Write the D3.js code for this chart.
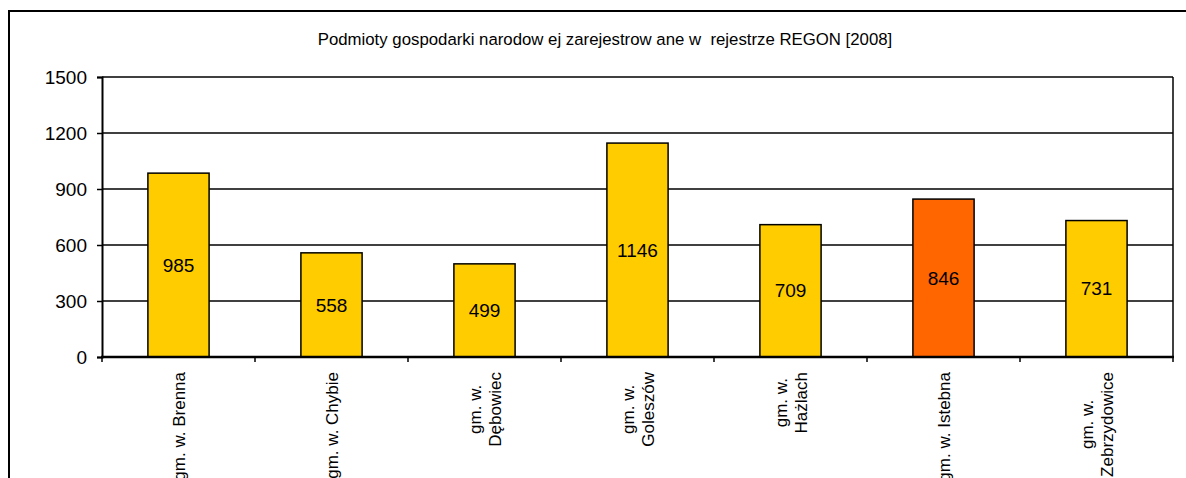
<!DOCTYPE html>
<html lang="pl">
  <head>
    <meta charset="UTF-8" />
    <script src="https://d3js.org/d3.v7.min.js"></script>
    <title>REGON 2008</title>
    <style>
      body { margin: 0; background: #fff; }
      text { font-family: "Liberation Sans", Arial, sans-serif; fill: #000; }
    </style>
  </head>
  <body>
    <svg id="chart" width="1186" height="478"></svg>
  </body>
  <script>
    // data
    var gminy = [
      ["gm. w. Brenna"],
      ["gm. w. Chybie"],
      ["gm. w.", "Dębowiec"],
      ["gm. w.", "Goleszów"],
      ["gm. w.", "Hażlach"],
      ["gm. w. Istebna"],
      ["gm. w.", "Zebrzydowice"]
    ];
    var podmioty = [985, 558, 499, 1146, 709, 846, 731];
    var wyroznione = ["gm. w. Istebna"];
    var yTicks = [0, 300, 600, 900, 1200, 1500];
    var tytul = "Podmioty gospodarki narodow ej zarejestrow ane w  rejestrze REGON [2008]";

    var svg = d3.select("#chart");
    var margin = { left: 102, right: 1173, top: 77, bottom: 357 };

    // outer frame (cut by the picture edge)
    svg.append("rect")
      .attr("x", 9).attr("y", 11)
      .attr("width", 1200).attr("height", 500)
      .attr("fill", "none").attr("stroke", "#000").attr("stroke-width", 2);

    svg.append("text")
      .attr("x", 605).attr("y", 45)
      .attr("text-anchor", "middle")
      .style("font-size", "16.8px")
      .style("white-space", "pre")
      .text(tytul);

    var x = d3.scaleBand()
      .domain(gminy.map(d => d.join(" ")))
      .range([margin.left, margin.right])
      .padding(0);

    var y = d3.scaleLinear().domain([0, 1500]).range([margin.bottom, margin.top]);

    // gridlines
    svg.append("g")
      .selectAll("line")
      .data(yTicks.filter(d => d > 0))
      .join("line")
      .attr("x1", margin.left).attr("x2", margin.right)
      .attr("y1", d => y(d)).attr("y2", d => y(d))
      .attr("stroke", "#000").attr("stroke-width", 1.5);

    // right border of plot
    svg.append("line")
      .attr("x1", margin.right).attr("x2", margin.right)
      .attr("y1", margin.top).attr("y2", margin.bottom)
      .attr("stroke", "#000").attr("stroke-width", 1.5);

    // bars
    var bw = x.bandwidth() * 0.4;
    svg.append("g")
      .selectAll("rect")
      .data(gminy)
      .join("rect")
      .attr("x", d => x(d.join(" ")) + (x.bandwidth() - bw) / 2)
      .attr("y", (d, i) => y(podmioty[i]))
      .attr("width", bw)
      .attr("height", (d, i) => y(0) - y(podmioty[i]))
      .attr("fill", d => wyroznione.includes(d.join(" ")) ? "#FF6600" : "#FFCC00")
      .attr("stroke", "#000").attr("stroke-width", 1.5);

    // value labels
    svg.append("g")
      .selectAll("text")
      .data(gminy)
      .join("text")
      .attr("x", d => x(d.join(" ")) + x.bandwidth() / 2)
      .attr("y", (d, i) => (y(podmioty[i]) + y(0)) / 2)
      .attr("dy", "0.35em")
      .attr("text-anchor", "middle")
      .style("font-size", "19px")
      .text((d, i) => podmioty[i]);

    // y axis
    var yAxis = svg.append("g")
      .attr("transform", "translate(" + margin.left + ",0)")
      .call(d3.axisLeft(y).tickValues(yTicks).tickFormat(d3.format("d")).tickSize(5).tickPadding(10));
    yAxis.select(".domain").attr("stroke-width", 2);
    yAxis.selectAll(".tick line").attr("stroke-width", 1.5);
    yAxis.selectAll("text").style("font-size", "19px").style("font-family", null);

    // x axis with ticks at category boundaries
    var bounds = gminy.map(d => x(d.join(" "))).concat([margin.right]);
    svg.append("line")
      .attr("x1", margin.left - 1).attr("x2", margin.right + 1)
      .attr("y1", margin.bottom).attr("y2", margin.bottom)
      .attr("stroke", "#000").attr("stroke-width", 2.5);
    svg.append("g")
      .selectAll("line")
      .data(bounds)
      .join("line")
      .attr("x1", d => d).attr("x2", d => d)
      .attr("y1", margin.bottom).attr("y2", margin.bottom + 5)
      .attr("stroke", "#000").attr("stroke-width", 1.5);

    // rotated category labels
    var lab = svg.append("g")
      .selectAll("g")
      .data(gminy)
      .join("g");
    lab.each(function (d) {
      var g = d3.select(this);
      var cx = x(d.join(" ")) + x.bandwidth() / 2;
      var n = d.length;
      var texts = d.map(function (line) {
        return g.append("text")
          .style("font-size", "17px")
          .attr("text-anchor", "middle")
          .text(line);
      });
      var maxLen = d3.max(texts, t => t.node().getComputedTextLength());
      var cy = 372 + maxLen / 2;
      texts.forEach(function (t, k) {
        var off = (k - (n - 1) / 2) * 20;
        t.attr("transform", "translate(" + (cx + off + 6) + "," + cy + ") rotate(-90)");
      });
    });
  </script>
</html>
